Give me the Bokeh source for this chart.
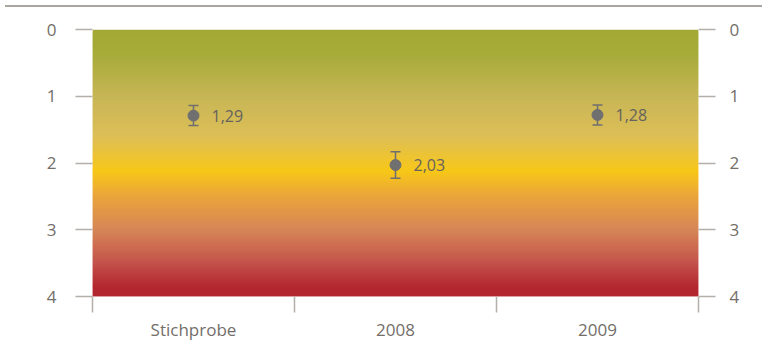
import numpy as np
from bokeh.plotting import figure
from bokeh.layouts import column
from bokeh.models import Range1d, FixedTicker, LinearAxis, ColumnDataSource, Whisker, Div
from bokeh.core.properties import value
from bokeh.embed import file_html
from bokeh.resources import INLINE

# ---- data ----
categories = ["Stichprobe", "2008", "2009"]
means = [1.29, 2.03, 1.28]
err_low = [1.14, 1.83, 1.13]
err_high = [1.44, 2.23, 1.43]
labels = ["1,29", "2,03", "1,28"]
y_ticks = [0, 1, 2, 3, 4]

# gradient stops (style)
stop_pos = [0.0, 0.4, 1.0, 1.6, 2.12, 2.5, 3.0, 3.5, 3.85, 4.0]
stop_col = [(163, 169, 52), (168, 172, 58), (199, 182, 86), (222, 191, 88),
            (248, 200, 24), (234, 165, 60), (214, 134, 88), (196, 82, 75),
            (181, 40, 48), (180, 38, 47)]

FONT = "Open Sans"
GREY = "#736e69"
TICK = "#b3afaa"

xc = [i + 0.5 for i in range(len(categories))]

p = figure(width=757, height=329, output_backend="svg", toolbar_location=None,
           x_range=Range1d(0, len(categories)), y_range=Range1d(4, 0),
           min_border_left=92, min_border_right=59, min_border_top=15, min_border_bottom=0)
p.outline_line_color = None
p.grid.visible = False
p.background_fill_color = "white"
p.border_fill_color = "white"

# gradient background strips
n = 135
edges = np.linspace(0, 4, n + 1)
mids = (edges[:-1] + edges[1:]) / 2
cols = []
for m in mids:
    r = np.interp(m, stop_pos, [c[0] for c in stop_col])
    g = np.interp(m, stop_pos, [c[1] for c in stop_col])
    b = np.interp(m, stop_pos, [c[2] for c in stop_col])
    cols.append("#%02x%02x%02x" % (int(r), int(g), int(b)))
bottoms = np.minimum(edges[1:] + 0.03, 4.0)
p.quad(left=0, right=len(categories), top=edges[:-1], bottom=bottoms,
       fill_color=cols, line_color=None)

src = ColumnDataSource(dict(x=xc, y=means, lo=err_low, hi=err_high, lab=labels))
w = Whisker(base="x", lower="lo", upper="hi", source=src, line_color="#6f6f6f",
            line_width=1.5, level="overlay")
for h in (w.upper_head, w.lower_head):
    h.size = 10
    h.line_color = "#6f6f6f"
    h.line_width = 1.5
p.add_layout(w)
p.scatter("x", "y", source=src, size=11, color="#707070", level="overlay")
p.text("x", "y", text="lab", source=src, x_offset=18, text_baseline="middle",
       text_font=value(FONT), text_font_size="16px", text_color="#66625e")

# y axes
def style_y(ax, standoff):
    ax.ticker = FixedTicker(ticks=y_ticks)
    ax.axis_line_color = None
    ax.major_tick_line_color = TICK
    ax.major_tick_line_width = 1.5
    ax.major_tick_out = 17
    ax.major_tick_in = 0
    ax.minor_tick_line_color = None
    ax.major_label_standoff = standoff
    ax.major_label_text_font = FONT
    ax.major_label_text_font_size = "17px"
    ax.major_label_text_color = GREY

style_y(p.yaxis[0], 19)
ry = LinearAxis()
style_y(ry, 14)
p.add_layout(ry, "right")

# x axis
xa = p.xaxis[0]
xa.ticker = FixedTicker(ticks=xc, minor_ticks=list(range(len(categories) + 1)))
xa.major_label_overrides = {x: c for x, c in zip(xc, categories)}
xa.axis_line_color = None
xa.major_tick_line_color = None
xa.major_tick_out = 0
xa.major_tick_in = 0
xa.minor_tick_line_color = TICK
xa.minor_tick_line_width = 1.5
xa.minor_tick_out = 16
xa.minor_tick_in = 0
xa.major_label_standoff = 5
xa.major_label_text_font = FONT
xa.major_label_text_font_size = "17px"
xa.major_label_text_color = GREY

rule = Div(width=757, height=2, styles={"background-color": "#aaa59f"})
layout = column(rule, p, spacing=2)

open("out.html", "w").write(file_html(layout, INLINE))
